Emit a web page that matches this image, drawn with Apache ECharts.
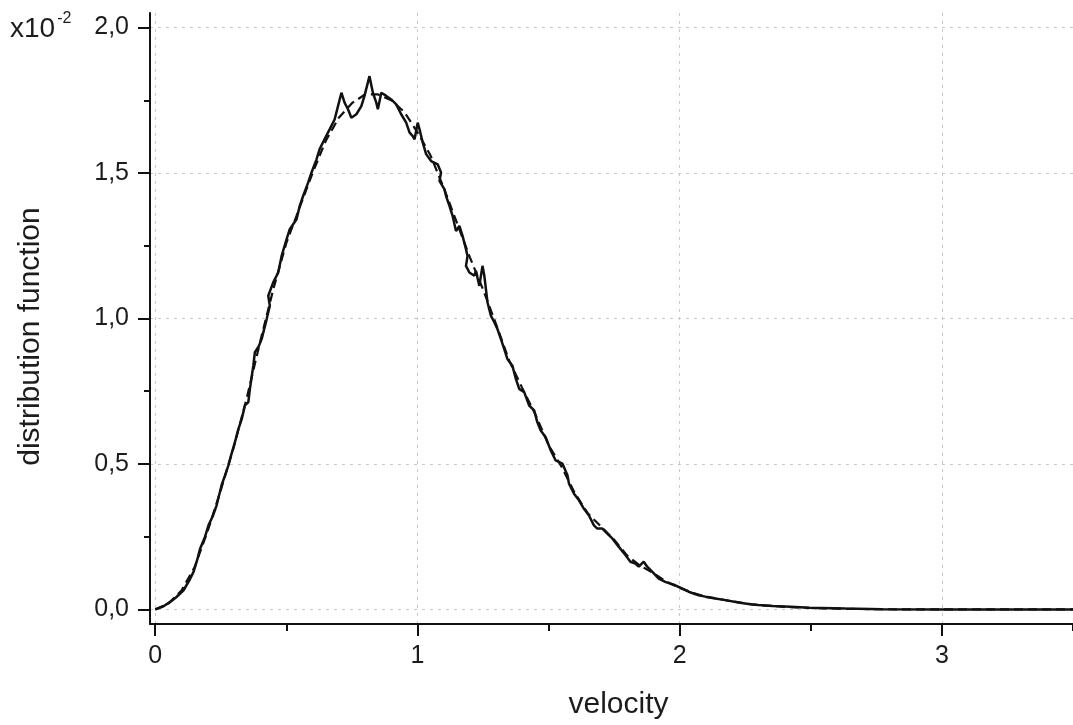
<!DOCTYPE html>
<html>
<head>
<meta charset="utf-8">
<script src="https://cdn.jsdelivr.net/npm/echarts@6/dist/echarts.min.js"></script>
<style>
  html, body { margin: 0; padding: 0; background: #fff; }
  #chart { width: 1073px; height: 725px; }
</style>
</head>
<body>
<div id="chart"></div>
<script>
// Simulated velocity histogram (noisy) — velocity values and distribution (×10^-2)
const simVelocity = [
  0.000, 0.006, 0.030, 0.057, 0.080, 0.108, 0.130, 0.146, 0.160, 0.171,
  0.190, 0.203, 0.220, 0.234, 0.253, 0.265, 0.279, 0.290, 0.304, 0.317,
  0.330, 0.342, 0.355, 0.361, 0.374, 0.380, 0.395, 0.406, 0.425, 0.437,
  0.431, 0.450, 0.469, 0.482, 0.501, 0.513, 0.539, 0.551, 0.564, 0.583,
  0.596, 0.615, 0.627, 0.645, 0.665, 0.684, 0.697, 0.710, 0.722, 0.735,
  0.748, 0.767, 0.786, 0.798, 0.817, 0.830, 0.843, 0.849, 0.862, 0.881,
  0.900, 0.919, 0.938, 0.957, 0.970, 0.982, 0.989, 1.001, 1.008, 1.020,
  1.033, 1.052, 1.077, 1.090, 1.084, 1.103, 1.109, 1.122, 1.134, 1.147,
  1.160, 1.166, 1.172, 1.185, 1.191, 1.185, 1.198, 1.217, 1.223, 1.236,
  1.248, 1.255, 1.267, 1.280, 1.293, 1.305, 1.318, 1.331, 1.343, 1.362,
  1.375, 1.388, 1.407, 1.426, 1.445, 1.457, 1.470, 1.489, 1.508, 1.527,
  1.553, 1.572, 1.578, 1.597, 1.616, 1.635, 1.654, 1.673, 1.686, 1.705,
  1.724, 1.743, 1.768, 1.793, 1.812, 1.831, 1.844, 1.863, 1.876, 1.895,
  1.920, 1.945, 1.983, 2.009, 2.034, 2.072, 2.098, 2.136, 2.174, 2.224,
  2.275, 2.300, 2.354, 2.424, 2.493, 2.632, 2.771, 3.000, 3.250, 3.500
];
const simDistribution = [
  0.000, 0.003, 0.010, 0.026, 0.042, 0.066, 0.100, 0.129, 0.170, 0.209,
  0.250, 0.289, 0.322, 0.358, 0.427, 0.458, 0.495, 0.532, 0.575, 0.620,
  0.655, 0.701, 0.713, 0.758, 0.838, 0.884, 0.905, 0.930, 0.998, 1.044,
  1.078, 1.124, 1.158, 1.215, 1.273, 1.307, 1.341, 1.387, 1.421, 1.467,
  1.502, 1.547, 1.582, 1.615, 1.650, 1.684, 1.730, 1.776, 1.742, 1.719,
  1.690, 1.702, 1.730, 1.765, 1.833, 1.776, 1.742, 1.719, 1.776, 1.765,
  1.753, 1.736, 1.702, 1.673, 1.639, 1.627, 1.616, 1.673, 1.650, 1.605,
  1.565, 1.541, 1.530, 1.502, 1.473, 1.444, 1.421, 1.387, 1.353, 1.301,
  1.318, 1.324, 1.284, 1.238, 1.215, 1.181, 1.158, 1.147, 1.164, 1.112,
  1.181, 1.147, 1.056, 1.010, 0.987, 0.964, 0.930, 0.895, 0.861, 0.838,
  0.793, 0.758, 0.747, 0.701, 0.684, 0.644, 0.615, 0.592, 0.547, 0.512,
  0.501, 0.461, 0.432, 0.398, 0.375, 0.346, 0.323, 0.289, 0.278, 0.278,
  0.261, 0.244, 0.215, 0.187, 0.164, 0.158, 0.147, 0.164, 0.147, 0.130,
  0.106, 0.095, 0.083, 0.072, 0.061, 0.049, 0.044, 0.038, 0.032, 0.024,
  0.017, 0.015, 0.012, 0.009, 0.006, 0.003, 0.001, 0.000, 0.000, 0.000
];

// Theoretical (smooth, dashed) distribution
const theoryVelocity = [
  0.00, 0.05, 0.10, 0.15, 0.20, 0.25, 0.30, 0.35, 0.40, 0.45,
  0.50, 0.55, 0.60, 0.65, 0.70, 0.75, 0.80, 0.85, 0.90, 0.95,
  1.00, 1.05, 1.10, 1.15, 1.20, 1.25, 1.30, 1.35, 1.40, 1.45,
  1.50, 1.55, 1.60, 1.65, 1.70, 1.75, 1.80, 1.85, 1.90, 1.95,
  2.00, 2.05, 2.10, 2.15, 2.20, 2.25, 2.30, 2.35, 2.40, 2.45,
  2.50, 2.55, 2.60, 2.65, 2.70, 2.75, 2.80, 2.85, 2.90, 2.95,
  3.00, 3.10, 3.20, 3.30, 3.40, 3.50
];
const theoryDistribution = [
  0.000, 0.020, 0.065, 0.145, 0.270, 0.410, 0.560, 0.730, 0.920, 1.100,
  1.260, 1.380, 1.500, 1.610, 1.690, 1.740, 1.770, 1.770, 1.750, 1.710,
  1.640, 1.560, 1.450, 1.330, 1.210, 1.100, 0.980, 0.855, 0.760, 0.670,
  0.565, 0.490, 0.400, 0.330, 0.285, 0.240, 0.185, 0.150, 0.125, 0.095,
  0.075, 0.057, 0.044, 0.036, 0.028, 0.021, 0.015, 0.012, 0.009, 0.007,
  0.005, 0.004, 0.003, 0.002, 0.0015, 0.001, 0.0007, 0.0005, 0.0003, 0.0002,
  0.0001, 0, 0, 0, 0, 0
];

// Axis ticks and labels
const xTickValues = [0, 1, 2, 3];
const xTickLabels = ['0', '1', '2', '3'];
const xMinorTicks = [0.5, 1.5, 2.5, 3.5];
const yTickValues = [0, 0.5, 1, 1.5, 2];
const yTickLabels = ['0,0', '0,5', '1,0', '1,5', '2,0'];
const yMinorTicks = [0.25, 0.75, 1.25, 1.75];
const xTitle = 'velocity';
const yTitle = 'distribution function';
const yScaleNote = ['x10', '-2'];

const FONT = '"Liberation Sans", Arial, Helvetica, sans-serif';
const INK = '#111';
const TEXT = '#1c1c1c';

function labelFor(values, labels) {
  return function (v) {
    for (let i = 0; i < values.length; i++) {
      if (Math.abs(values[i] - v) < 1e-9) return labels[i];
    }
    return '';
  };
}

const pairs = (xs, ys) => xs.map((x, i) => [x, ys[i]]);

const gridLine = { show: true, lineStyle: { color: '#c8c8c8', width: 1, type: [3, 5] } };
const X_MIN = -0.02, X_MAX = 3.5, Y_MIN = -0.05, Y_MAX = 2.05;

const chart = echarts.init(document.getElementById('chart'), null, { renderer: 'canvas' });

chart.setOption({
  animation: false,
  backgroundColor: '#ffffff',
  grid: { left: 150, right: -3, top: 13, bottom: 99 },
  xAxis: [
    {
      type: 'value', min: X_MIN, max: X_MAX, position: 'bottom',
      axisLine: { show: true, onZero: false, lineStyle: { color: INK, width: 2 } },
      axisTick: { show: true, inside: false, length: 12, customValues: xTickValues,
                  lineStyle: { color: INK, width: 2 } },
      axisLabel: { show: true, customValues: xTickValues, formatter: labelFor(xTickValues, xTickLabels),
                   margin: 20, fontSize: 25, color: TEXT, fontFamily: FONT },
      splitLine: gridLine,
      name: xTitle, nameLocation: 'middle', nameGap: 66,
      nameTextStyle: { fontSize: 30, color: TEXT, fontFamily: FONT, padding: [0, 0, 0, 14] }
    },
    {
      type: 'value', min: X_MIN, max: X_MAX, position: 'bottom',
      axisLine: { show: false, onZero: false },
      axisTick: { show: true, inside: false, length: 7, customValues: xMinorTicks,
                  lineStyle: { color: INK, width: 2 } },
      axisLabel: { show: false },
      splitLine: { show: false }
    }
  ],
  yAxis: [
    {
      type: 'value', min: Y_MIN, max: Y_MAX, position: 'left',
      axisLine: { show: true, onZero: false, lineStyle: { color: INK, width: 2 } },
      axisTick: { show: true, inside: false, length: 12, customValues: yTickValues,
                  lineStyle: { color: INK, width: 2 } },
      axisLabel: { show: true, customValues: yTickValues, formatter: labelFor(yTickValues, yTickLabels),
                   margin: 21, fontSize: 25, color: TEXT, fontFamily: FONT },
      splitLine: gridLine,
      name: yTitle, nameLocation: 'middle', nameGap: 104, nameRotate: 90,
      nameTextStyle: { fontSize: 30, color: TEXT, fontFamily: FONT, padding: [0, 36, 0, 0] }
    },
    {
      type: 'value', min: Y_MIN, max: Y_MAX, position: 'left',
      axisLine: { show: false, onZero: false },
      axisTick: { show: true, inside: false, length: 6, customValues: yMinorTicks,
                  lineStyle: { color: INK, width: 2 } },
      axisLabel: { show: false },
      splitLine: { show: false }
    }
  ],
  graphic: [
    {
      type: 'text', left: 10, top: 11,
      style: {
        text: '{m|' + yScaleNote[0] + '}{s|' + yScaleNote[1] + '}',
        rich: {
          m: { fontSize: 28, fontFamily: FONT, fill: TEXT, verticalAlign: 'bottom' },
          s: { fontSize: 16, fontFamily: FONT, fill: TEXT, verticalAlign: 'top', padding: [0, 0, 16, 2] }
        }
      }
    }
  ],
  series: [
    {
      name: 'theory', type: 'line', xAxisIndex: 0, yAxisIndex: 0,
      data: pairs(theoryVelocity, theoryDistribution),
      showSymbol: false, smooth: false, z: 2,
      lineStyle: { color: INK, width: 2.2, type: [9, 5] }
    },
    {
      name: 'simulation', type: 'line', xAxisIndex: 0, yAxisIndex: 0,
      data: pairs(simVelocity, simDistribution),
      showSymbol: false, smooth: false, z: 3,
      lineStyle: { color: INK, width: 2.5 }
    }
  ]
});
</script>
</body>
</html>
